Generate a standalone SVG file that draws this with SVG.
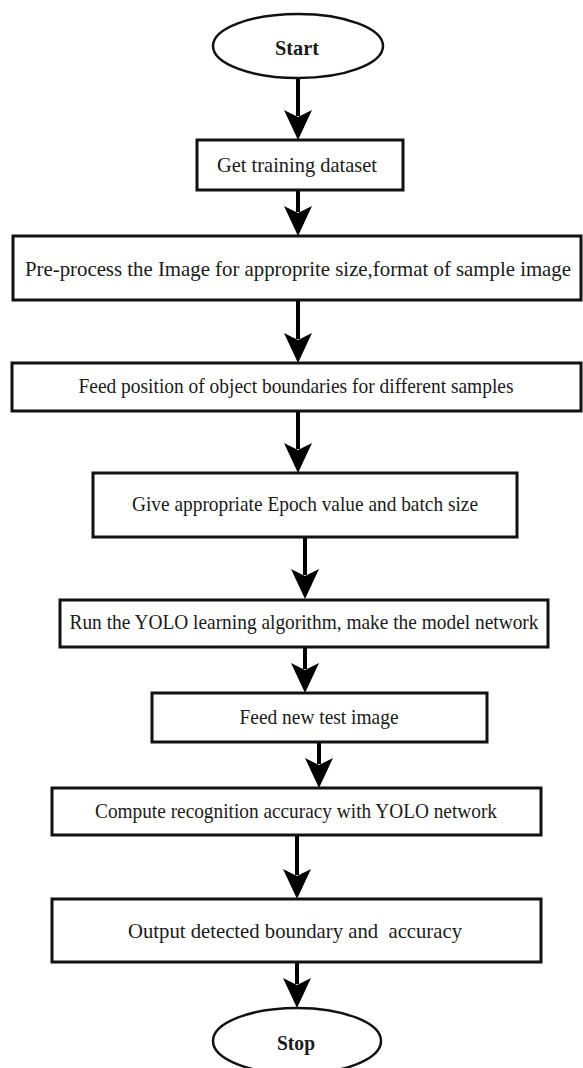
<svg xmlns="http://www.w3.org/2000/svg" width="583" height="1068" viewBox="0 0 583 1068">
<defs>
<style>
.box{fill:#fff;stroke:#111;stroke-width:3}
.term{fill:#fff;stroke:#111;stroke-width:2.5}
.lbl{font-family:"Liberation Serif","Times New Roman",serif;font-size:21px;fill:#1a1a1a;text-anchor:middle}
.bold{font-weight:bold}
.conn{stroke:#000;stroke-width:4;fill:none;marker-end:url(#ah)}
</style>
<marker id="ah" markerUnits="userSpaceOnUse" viewBox="0 -14 30 28" refX="6" refY="0" markerWidth="30" markerHeight="28" orient="auto">
<path d="M0,-14 L30,0 L0,14 L7,0 Z" fill="#000"/>
</marker>
</defs>
<rect width="583" height="1068" fill="#fff"/>
<g id="connectors">
<path class="conn" d="M298,78 V116"/>
<path class="conn" d="M298,190 V212"/>
<path class="conn" d="M298,300 V339"/>
<path class="conn" d="M298,411 V449"/>
<path class="conn" d="M305,537 V575"/>
<path class="conn" d="M305,647 V669"/>
<path class="conn" d="M319,742 V764"/>
<path class="conn" d="M297,835 V875"/>
<path class="conn" d="M297,962 V984"/>
</g>
<g id="start">
<ellipse class="term" cx="298" cy="46" rx="85" ry="32"/>
<text class="lbl bold" x="297" y="55" textLength="44" lengthAdjust="spacingAndGlyphs">Start</text>
</g>
<g id="get-dataset">
<rect class="box" x="197" y="140" width="206" height="50"/>
<text class="lbl" x="297" y="172" textLength="160" lengthAdjust="spacingAndGlyphs">Get training dataset</text>
</g>
<g id="preprocess">
<rect class="box" x="13" y="236" width="568" height="64"/>
<text class="lbl" x="298" y="276" textLength="546" lengthAdjust="spacingAndGlyphs">Pre-process the Image for approprite size,format of sample image</text>
</g>
<g id="feed-positions">
<rect class="box" x="12" y="363" width="569" height="48"/>
<text class="lbl" x="296" y="393" textLength="435" lengthAdjust="spacingAndGlyphs">Feed position of object boundaries for different samples</text>
</g>
<g id="epoch">
<rect class="box" x="93" y="473" width="424" height="64"/>
<text class="lbl" x="305" y="511" textLength="346" lengthAdjust="spacingAndGlyphs">Give appropriate Epoch value and batch size</text>
</g>
<g id="run-yolo">
<rect class="box" x="60" y="600" width="488" height="47"/>
<text class="lbl" x="304" y="629" textLength="469" lengthAdjust="spacingAndGlyphs">Run the YOLO learning algorithm, make the model network</text>
</g>
<g id="feed-test">
<rect class="box" x="152" y="693" width="335" height="49"/>
<text class="lbl" x="319" y="724" textLength="159" lengthAdjust="spacingAndGlyphs">Feed new test image</text>
</g>
<g id="compute">
<rect class="box" x="52" y="788" width="489" height="47"/>
<text class="lbl" x="296" y="818" textLength="402" lengthAdjust="spacingAndGlyphs">Compute recognition accuracy with YOLO network</text>
</g>
<g id="output">
<rect class="box" x="52" y="899" width="489" height="63"/>
<text class="lbl" x="295" y="938" textLength="334" lengthAdjust="spacingAndGlyphs" xml:space="preserve">Output detected boundary and  accuracy</text>
</g>
<g id="stop">
<ellipse class="term" cx="297" cy="1041" rx="84" ry="33"/>
<text class="lbl bold" x="296" y="1050" textLength="38" lengthAdjust="spacingAndGlyphs">Stop</text>
</g>
</svg>
